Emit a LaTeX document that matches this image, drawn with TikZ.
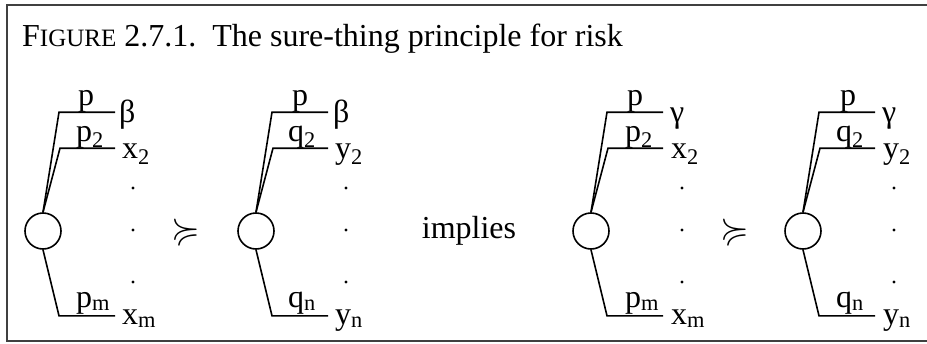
\documentclass[tikz,border=0pt]{standalone}
\usepackage{amssymb}
\usepackage{fontspec}
\setmainfont{Liberation Serif}
\usetikzlibrary{positioning}
\newcommand{\lab}{\fontsize{32}{36}\selectfont}

\begin{document}
\begin{tikzpicture}[x=1pt,y=-1pt,
  lottery/.style={draw,circle,minimum size=36pt,inner sep=0pt,line width=1.6pt},
  branch/.style={line width=1.6pt},
  prob/.style={anchor=base west,inner sep=0pt,font=\lab},
  prize/.style={anchor=base west,inner sep=0pt,font=\lab},
  dot/.style={circle,fill,inner sep=0pt,minimum size=3.4pt},
  rel/.style={inner sep=0pt,font=\lab},
  pref/.style={inner sep=0pt,font=\fontsize{37}{40}\selectfont}
]
\useasboundingbox (0,0) rectangle (927,343);
% ---- frame and caption ----
\draw[line width=1.8pt,black!75] (940,5) -- (7,5) -- (7,341) -- (940,341);
\node[anchor=base west,inner sep=0pt,font=\lab] (title) at (22,46)
  {F{\fontsize{25}{28}\selectfont IGURE} 2.7.1.\ \ The sure-thing principle for risk};

% ---- Lottery 1 ----
\node[lottery] (l1) at (43,231) {};
\draw[branch] (l1.north) -- ++(16,-100) -- ++(56,0) coordinate (l1t);
\draw[branch] (l1.north) -- ++(17,-64) -- ++(55,0) coordinate (l1s);
\draw[branch] (l1.south) -- ++(16,66) -- ++(56,0) coordinate (l1b);
\node[prob] (l1p1) at (78,105) {p};
\node[prob] (l1p2) at (76,141) {p\textsubscript{2}};
\node[prob] (l1pm) at (76,307) {p\textsubscript{m}};
\node[prize] (l1x1) at (119,122) {β};
\node[prize] (l1x2) at (122,158) {x\textsubscript{2}};
\node[prize] (l1xm) at (122,324) {x\textsubscript{m}};
\foreach \y in {188,230,282} \node[dot] at (133,\y) {};

\node[pref] (pref1) at (186,231) {$\succcurlyeq$};

% ---- Lottery 2 ----
\node[lottery] (l2) at (256,231) {};
\draw[branch] (l2.north) -- ++(16,-100) -- ++(56,0) coordinate (l2t);
\draw[branch] (l2.north) -- ++(17,-64) -- ++(55,0) coordinate (l2s);
\draw[branch] (l2.south) -- ++(16,66) -- ++(56,0) coordinate (l2b);
\node[prob] (l2p1) at (292,105) {p};
\node[prob] (l2p2) at (288,141) {q\textsubscript{2}};
\node[prob] (l2pm) at (288,307) {q\textsubscript{n}};
\node[prize] (l2x1) at (333,122) {β};
\node[prize] (l2x2) at (335,158) {y\textsubscript{2}};
\node[prize] (l2xm) at (335,324) {y\textsubscript{n}};
\foreach \y in {188,230,282} \node[dot] at (346,\y) {};

\node[rel] (impl) at (469,231) {implies};

% ---- Lottery 3 ----
\node[lottery] (l3) at (591,231) {};
\draw[branch] (l3.north) -- ++(16,-100) -- ++(56,0) coordinate (l3t);
\draw[branch] (l3.north) -- ++(17,-64) -- ++(55,0) coordinate (l3s);
\draw[branch] (l3.south) -- ++(16,66) -- ++(56,0) coordinate (l3b);
\node[prob] (l3p1) at (627,105) {p};
\node[prob] (l3p2) at (625,141) {p\textsubscript{2}};
\node[prob] (l3pm) at (625,307) {p\textsubscript{m}};
\node[prize] (l3x1) at (670,122) {γ};
\node[prize] (l3x2) at (671,158) {x\textsubscript{2}};
\node[prize] (l3xm) at (671,324) {x\textsubscript{m}};
\foreach \y in {188,230,282} \node[dot] at (682,\y) {};

\node[pref] (pref2) at (735,231) {$\succcurlyeq$};

% ---- Lottery 4 ----
\node[lottery] (l4) at (803,231) {};
\draw[branch] (l4.north) -- ++(16,-100) -- ++(56,0) coordinate (l4t);
\draw[branch] (l4.north) -- ++(17,-64) -- ++(55,0) coordinate (l4s);
\draw[branch] (l4.south) -- ++(16,66) -- ++(56,0) coordinate (l4b);
\node[prob] (l4p1) at (840,105) {p};
\node[prob] (l4p2) at (836,141) {q\textsubscript{2}};
\node[prob] (l4pm) at (836,307) {q\textsubscript{n}};
\node[prize] (l4x1) at (882,122) {γ};
\node[prize] (l4x2) at (883,158) {y\textsubscript{2}};
\node[prize] (l4xm) at (883,324) {y\textsubscript{n}};
\foreach \y in {188,230,282} \node[dot] at (894,\y) {};
\end{tikzpicture}
\end{document}
